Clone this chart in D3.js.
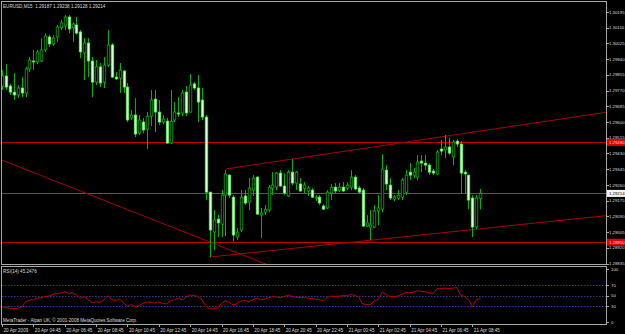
<!DOCTYPE html>
<html>
<head>
<meta charset="utf-8">
<script src="https://cdn.jsdelivr.net/npm/d3@7"></script>
<style>
body { margin: 0; background: #000; }
svg { display: block; }
</style>
</head>
<body>
<div id="chart"></div>
<script>
// EURUSD M15 candles
var opens = [1.29795,1.29849,1.29795,1.29762,1.29746,1.29784,1.29757,1.29887,1.29930,1.29925,
  1.29930,1.29990,1.30060,1.30022,1.30060,1.30109,1.30119,1.30168,1.30109,1.30125,
  1.30087,1.29973,1.30027,1.29930,1.29816,1.29898,1.29816,1.29908,1.30017,1.29843,
  1.29838,1.29876,1.29789,1.29622,1.29638,1.29540,1.29600,1.29562,1.29632,1.29724,
  1.29654,1.29600,1.29605,1.29486,1.29611,1.29649,1.29649,1.29762,1.29654,1.29806,
  1.29784,1.29719,1.29627,1.29221,1.29005,1.29075,1.29048,1.29205,1.29313,1.29194,
  1.28978,1.29016,1.29200,1.29167,1.29232,1.29302,1.29097,1.29113,1.29124,1.29243,
  1.29248,1.29324,1.29254,1.29200,1.29329,1.29270,1.29265,1.29243,1.29227,1.29232,
  1.29189,1.29194,1.29146,1.29135,1.29216,1.29248,1.29232,1.29248,1.29243,1.29248,
  1.29302,1.29243,1.29232,1.29037,1.29032,1.29032,1.29119,1.29129,1.29340,1.29259,
  1.29183,1.29189,1.29194,1.29221,1.29329,1.29313,1.29302,1.29389,1.29378,1.29367,
  1.29335,1.29319,1.29454,1.29449,1.29465,1.29411,1.29497,1.29481,1.29329,1.29313,
  1.29189,1.29032,1.29187];
var highs = [1.29881,1.29914,1.29806,1.29865,1.29800,1.29843,1.29898,1.29952,1.29990,1.29990,
  1.30054,1.30081,1.30071,1.30071,1.30125,1.30152,1.30179,1.30179,1.30141,1.30168,
  1.30098,1.30054,1.30054,1.29952,1.29935,1.29919,1.29952,1.30098,1.30027,1.29870,
  1.29919,1.29881,1.29811,1.29665,1.29730,1.29638,1.29622,1.29654,1.29773,1.29773,
  1.29719,1.29638,1.29622,1.29773,1.29708,1.29735,1.29773,1.29795,1.29860,1.29816,
  1.29854,1.29784,1.29638,1.29221,1.29124,1.29097,1.29232,1.29340,1.29319,1.29205,
  1.29027,1.29232,1.29232,1.29297,1.29313,1.29308,1.29135,1.29151,1.29259,1.29329,
  1.29329,1.29340,1.29324,1.29340,1.29400,1.29335,1.29297,1.29275,1.29254,1.29243,
  1.29205,1.29205,1.29156,1.29232,1.29265,1.29270,1.29270,1.29275,1.29275,1.29340,
  1.29313,1.29254,1.29243,1.29097,1.29124,1.29151,1.29205,1.29427,1.29367,1.29297,
  1.29205,1.29232,1.29297,1.29340,1.29378,1.29351,1.29421,1.29421,1.29421,1.29378,
  1.29346,1.29449,1.29503,1.29530,1.29513,1.29503,1.29508,1.29497,1.29340,1.29313,
  1.29205,1.29205,1.29238];
var lows = [1.29773,1.29773,1.29746,1.29719,1.29730,1.29735,1.29735,1.29870,1.29881,1.29914,
  1.29925,1.29979,1.30006,1.30011,1.30033,1.30098,1.30098,1.30081,1.30033,1.30071,
  1.29946,1.29827,1.29843,1.29735,1.29800,1.29789,1.29784,1.29898,1.29838,1.29827,
  1.29757,1.29757,1.29600,1.29611,1.29519,1.29530,1.29540,1.29454,1.29578,1.29546,
  1.29584,1.29589,1.29481,1.29481,1.29600,1.29627,1.29632,1.29632,1.29649,1.29773,
  1.29600,1.29611,1.29178,1.28870,1.28908,1.28978,1.28978,1.28983,1.29189,1.28956,
  1.28962,1.29005,1.29151,1.29124,1.29200,1.29097,1.28972,1.29097,1.29113,1.29205,
  1.29232,1.29248,1.29205,1.29194,1.29259,1.29232,1.29221,1.29216,1.29200,1.29189,
  1.29173,1.29151,1.29124,1.29129,1.29178,1.29216,1.29221,1.29221,1.29232,1.29232,
  1.29232,1.29210,1.29037,1.29032,1.28962,1.29027,1.29043,1.29113,1.29232,1.29178,
  1.29173,1.29178,1.29178,1.29205,1.29286,1.29297,1.29286,1.29329,1.29340,1.29313,
  1.29313,1.29313,1.29421,1.29405,1.29421,1.29367,1.29465,1.29216,1.29216,1.29129,
  1.28978,1.29021,1.29128];
var closes = [1.29849,1.29789,1.29762,1.29746,1.29784,1.29757,1.29887,1.29935,1.29925,1.29979,
  1.29990,1.30065,1.30022,1.30054,1.30114,1.30136,1.30168,1.30103,1.30130,1.30081,
  1.29979,1.30027,1.29930,1.29816,1.29898,1.29811,1.29908,1.30017,1.29843,1.29833,
  1.29881,1.29789,1.29611,1.29638,1.29535,1.29611,1.29557,1.29632,1.29719,1.29654,
  1.29600,1.29616,1.29486,1.29605,1.29654,1.29643,1.29757,1.29649,1.29800,1.29784,
  1.29708,1.29627,1.29221,1.29016,1.29070,1.29054,1.29205,1.29319,1.29205,1.28989,
  1.29005,1.29194,1.29162,1.29243,1.29297,1.29102,1.29108,1.29129,1.29248,1.29259,
  1.29324,1.29254,1.29216,1.29329,1.29270,1.29329,1.29227,1.29259,1.29243,1.29194,
  1.29194,1.29162,1.29129,1.29221,1.29248,1.29227,1.29248,1.29227,1.29259,1.29302,
  1.29238,1.29221,1.29037,1.29054,1.29043,1.29119,1.29135,1.29346,1.29265,1.29189,
  1.29194,1.29205,1.29286,1.29313,1.29313,1.29329,1.29384,1.29378,1.29367,1.29329,
  1.29324,1.29438,1.29443,1.29465,1.29432,1.29492,1.29481,1.29324,1.29319,1.29178,
  1.29032,1.29189,1.29214];

// RSI(14) under the chart
var rsi = [29,27,26,25,26,28,38,41,42,45,46,48,49,52,54,55,57,54,55,51,
  45,48,42,36,38,37,42,50,42,41,43,36,30,33,29,31,35,38,37,36,
  38,35,34,40,42,45,42,47,51,50,48,42,30,25,25,27,35,40,37,32,
  35,39,41,38,42,45,42,43,46,48,47,46,48,51,48,47,46,46,45,44,
  43,42,40,46,49,48,49,49,50,52,50,47,34,33,33,40,43,57,52,48,
  48,49,52,56,55,56,59,58,57,55,54,63,63,64,63,64,65,51,48,42,
  29,42,44];

var priceTicks = [1.30195,1.30110,1.30025,1.29940,1.29855,1.29770,1.29685,1.29600,1.29515,
  1.29430,1.29345,1.29260,1.29175,1.29090,1.29005,1.28920,1.28835];
var rsiLevels = [70, 50, 30];
var rsiTicks = [100, 70, 50, 30, 0];
var timeBars = [0,8,16,24,32,40,48,56,64,72,80,88,96,104,112,120];
var timeLabels = ["20 Apr 2009","20 Apr 04:45","20 Apr 06:45","20 Apr 08:45","20 Apr 10:45",
  "20 Apr 12:45","20 Apr 14:45","20 Apr 16:45","20 Apr 18:45","20 Apr 20:45","20 Apr 22:45",
  "21 Apr 00:45","21 Apr 02:45","21 Apr 04:45","21 Apr 06:45","21 Apr 08:45"];

// horizontal levels, bid, and trend lines (bar index, price)
var redLevels = [1.29490, 1.28950];
var bid = 1.29214;
var trendLines = [
  [[0, 1.29394], [68, 1.28826]],
  [[57, 1.29346], [114, 1.29526]],
  [[53, 1.28870], [114, 1.29005]]
];

var width = 625, height = 334;
var font = "'Liberation Sans', Arial, sans-serif";
var txt = "#dcdcdc";
var fs = 4.6;

var svg = d3.select('#chart').append('svg')
  .attr('width', width)
  .attr('height', height)
  .style('background', '#000');

var x = d3.scaleLinear().domain([0, 122]).range([2, 480.2]);
var y = d3.scaleLinear().domain([1.28835, 1.30195]).range([263.5, 12]);
var yr = d3.scaleLinear().domain([0, 100]).range([322, 269]);

var main = {l: 1, t: 1, r: 606, b: 264};
var sub = {t: 266, b: 324};

svg.append('clipPath').attr('id', 'mainclip')
  .append('rect')
  .attr('x', main.l).attr('y', main.t)
  .attr('width', main.r - main.l).attr('height', main.b - main.t);

var plot = svg.append('g').attr('clip-path', 'url(#mainclip)');

// bid line
plot.append('line')
  .attr('x1', main.l).attr('x2', main.r)
  .attr('y1', Math.round(y(bid)) + 0.5).attr('y2', Math.round(y(bid)) + 0.5)
  .attr('stroke', '#555').attr('stroke-width', 1);

// red horizontal lines
plot.selectAll('.lvl').data(redLevels).enter().append('line')
  .attr('x1', main.l).attr('x2', main.r)
  .attr('y1', function (d) { return Math.round(y(d)) + 0.5; })
  .attr('y2', function (d) { return Math.round(y(d)) + 0.5; })
  .attr('stroke', '#c00000').attr('stroke-width', 1);

// trend lines, extended to the panel edge
trendLines.forEach(function (t, i) {
  var x1 = x(t[0][0]), y1 = y(t[0][1]), x2 = x(t[1][0]), y2 = y(t[1][1]);
  var k = (y2 - y1) / (x2 - x1);
  var xe = main.r;
  plot.append('line')
    .attr('x1', i == 0 ? main.l : x1).attr('y1', i == 0 ? y1 + (main.l - x1) * k : y1)
    .attr('x2', xe).attr('y2', y1 + (xe - x1) * k)
    .attr('stroke', '#a80000').attr('stroke-width', 1);
});

// candles
var idx = d3.range(opens.length);
plot.selectAll('.wick').data(idx).enter().append('line')
  .attr('x1', function (i) { return Math.round(x(i)) + 0.5; })
  .attr('x2', function (i) { return Math.round(x(i)) + 0.5; })
  .attr('y1', function (i) { return y(highs[i]); })
  .attr('y2', function (i) { return y(lows[i]); })
  .attr('stroke', '#00b400').attr('stroke-width', 1);

plot.selectAll('.body').data(idx).enter().append('rect')
  .attr('x', function (i) { return Math.round(x(i)) - 0.8; })
  .attr('width', 2.6)
  .attr('y', function (i) { return y(Math.max(opens[i], closes[i])); })
  .attr('height', function (i) { return Math.max(1, Math.abs(y(opens[i]) - y(closes[i]))); })
  .attr('fill', function (i) { return closes[i] >= opens[i] ? '#000' : '#d8ffd8'; })
  .attr('stroke', function (i) { return closes[i] >= opens[i] ? '#10c010' : '#40f040'; })
  .attr('stroke-width', 0.7);

// frames
svg.append('rect')
  .attr('x', main.l + 0.5).attr('y', main.t + 0.5)
  .attr('width', main.r - main.l).attr('height', main.b - main.t)
  .attr('fill', 'none').attr('stroke', '#a8a8a8');
svg.append('rect')
  .attr('x', main.l + 0.5).attr('y', sub.t + 0.5)
  .attr('width', main.r - main.l).attr('height', sub.b - sub.t)
  .attr('fill', 'none').attr('stroke', '#a8a8a8');

// price axis
var pfs = 4.3;
var pa = svg.append('g');
pa.selectAll('line').data(priceTicks).enter().append('line')
  .attr('x1', main.r).attr('x2', main.r + 3)
  .attr('y1', function (d) { return Math.round(y(d)) + 0.5; })
  .attr('y2', function (d) { return Math.round(y(d)) + 0.5; })
  .attr('stroke', '#a8a8a8');
pa.selectAll('text').data(priceTicks).enter().append('text')
  .attr('x', 609).attr('y', function (d) { return y(d) + 1.6; })
  .attr('font-family', font).attr('font-size', pfs).attr('fill', txt)
  .text(function (d) { return d.toFixed(5); });

// price labels for levels and bid
function priceTag(p, bg, fg) {
  var g = svg.append('g');
  g.append('rect').attr('x', 607).attr('y', y(p) - 3.5)
    .attr('width', 18).attr('height', 7).attr('fill', bg);
  g.append('text').attr('x', 609).attr('y', y(p) + 1.6)
    .attr('font-family', font).attr('font-size', pfs).attr('fill', fg)
    .text(p.toFixed(5));
}
redLevels.forEach(function (p) { priceTag(p, '#e00000', '#ffd8d8'); });
priceTag(bid, '#f4f4f4', '#000');

// header
svg.append('text').attr('x', 3).attr('y', 7.5)
  .attr('font-family', font).attr('font-size', fs).attr('fill', txt)
  .attr('xml:space', 'preserve')
  .text('EURUSD,M15  ' + opens[122].toFixed(5) + ' ' + highs[122].toFixed(5) + ' ' +
        lows[122].toFixed(5) + ' ' + closes[122].toFixed(5));

// RSI panel
svg.selectAll('.rl').data(rsiLevels).enter().append('line')
  .attr('x1', main.l + 1).attr('x2', main.r)
  .attr('y1', function (d) { return Math.round(yr(d)) + 0.5; })
  .attr('y2', function (d) { return Math.round(yr(d)) + 0.5; })
  .attr('stroke', '#34349a').attr('stroke-dasharray', '1.5,1.5');

svg.append('path')
  .datum(rsi)
  .attr('d', d3.line().x(function (d, i) { return x(i); }).y(function (d) { return yr(d); }))
  .attr('fill', 'none').attr('stroke', '#b80000').attr('stroke-width', 1);

svg.selectAll('.rt').data(rsiTicks).enter().append('text')
  .attr('x', 611).attr('y', function (d) { return yr(d) + 1.6; })
  .attr('font-family', font).attr('font-size', pfs).attr('fill', txt)
  .text(function (d) { return d; });
svg.selectAll('.rtk').data(rsiTicks).enter().append('line')
  .attr('x1', main.r).attr('x2', main.r + 3)
  .attr('y1', function (d) { return Math.round(yr(d)) + 0.5; })
  .attr('y2', function (d) { return Math.round(yr(d)) + 0.5; })
  .attr('stroke', '#a8a8a8');

svg.append('text').attr('x', 3).attr('y', 273)
  .attr('font-family', font).attr('font-size', fs).attr('fill', txt)
  .text('RSI(14) 45.2476');
svg.append('text').attr('x', 3).attr('y', 322)
  .attr('font-family', font).attr('font-size', fs).attr('fill', txt)
  .text('MetaTrader - Alpari UK, \u00a9 2001-2008 MetaQuotes Software Corp.');

// time axis
var ta = svg.append('g');
ta.selectAll('line').data(timeBars).enter().append('line')
  .attr('x1', function (d) { return Math.round(x(d)) + 0.5; })
  .attr('x2', function (d) { return Math.round(x(d)) + 0.5; })
  .attr('y1', sub.b).attr('y2', sub.b + 3)
  .attr('stroke', '#a8a8a8');
ta.selectAll('text').data(timeBars).enter().append('text')
  .attr('x', function (d) { return x(d) + 1.5; })
  .attr('y', 332)
  .attr('font-family', font).attr('font-size', fs).attr('fill', txt)
  .text(function (d, i) { return timeLabels[i]; });
</script>
</body>
</html>
